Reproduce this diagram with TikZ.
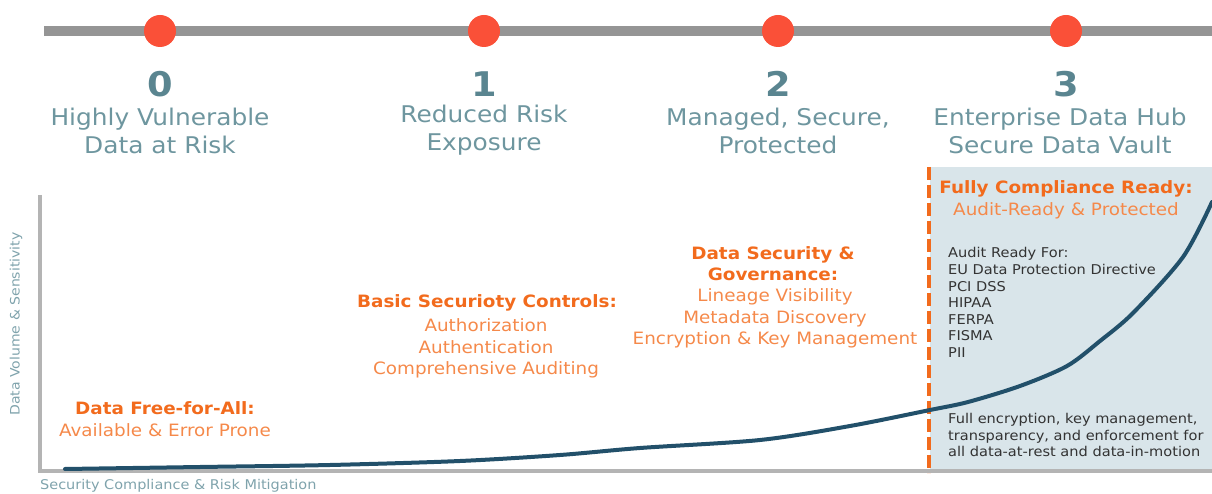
\documentclass[tikz,border=0pt]{standalone}
\usepackage{fontspec}
\setmainfont{DejaVu Sans}[FakeStretch=1.08]
\definecolor{bar}{HTML}{959595}
\definecolor{dot}{HTML}{FA5038}
\definecolor{teal}{HTML}{5A8590}
\definecolor{teallt}{HTML}{6E969F}
\definecolor{orgB}{HTML}{F26B1D}
\definecolor{orgR}{HTML}{F5894A}
\definecolor{zone}{HTML}{D9E5EA}
\definecolor{axis}{HTML}{B4B4B4}
\definecolor{curve}{HTML}{22506A}
\definecolor{txt}{HTML}{333333}
\definecolor{axlab}{HTML}{7FA3AC}
\tikzset{
  num/.style={font=\fontsize{34}{34}\selectfont\bfseries, text=teal, inner sep=0},
  lvl/.style={font=\fontsize{23}{28}\selectfont, text=teallt, align=center, inner sep=0},
  hd/.style={font=\fontsize{17}{21}\selectfont\bfseries, text=orgB, inner sep=0, align=center},
  bd/.style={font=\fontsize{17}{21.5}\selectfont, text=orgR, inner sep=0, align=center},
  sm/.style={font=\fontsize{13.5}{16.6}\selectfont, text=txt, inner sep=0, align=left, anchor=north west},
  stage/.style={circle, fill=dot, minimum size=32, inner sep=0},
}
\begin{document}
\begin{tikzpicture}[x=1pt,y=-1pt]
\useasboundingbox (0,0) rectangle (1212,494);
% zone
\fill[zone] (930,167) rectangle (1212,471);
% timeline
\coordinate (tl) at (44,31);
\coordinate (tr) at (1212,31);
\draw[bar, line width=10] (tl) -- (tr);
\node[stage] (d0) at (160,31) {};
\node[stage] (d1) at (484,31) {};
\node[stage] (d2) at (778,31) {};
\node[stage] (d3) at (1066,31) {};
% numbers and labels
\node[num] (n0) at (160,84) {0};
\node[num] (n1) at (484,84) {1};
\node[num] (n2) at (778,84) {2};
\node[num] (n3) at (1066,84) {3};
\node[lvl, anchor=north] (l0) at (160,108) {Highly Vulnerable\\Data at Risk};
\node[lvl, anchor=north] (l1) at (484,105) {Reduced Risk\\Exposure};
\node[lvl, anchor=north] (l2) at (778,108) {Managed, Secure,\\Protected};
\node[lvl, anchor=north] (l3) at (1060,108) {Enterprise Data Hub\\Secure Data Vault};
% axes
\coordinate (ytop) at (40,195);
\coordinate (orig) at (40,471);
\coordinate (xend) at (1212,471);
\draw[axis, line width=4] (ytop) -- (orig) -- (xend);
\node[rotate=90, font=\fontsize{13}{13}\selectfont, text=axlab, inner sep=0] (ylab) at (16,324) {Data Volume \& Sensitivity};
\node[anchor=west, font=\fontsize{13.4}{13.4}\selectfont, text=axlab, inner sep=0] (xlab) at (40,486) {Security Compliance \& Risk Mitigation};
% dashed separator
\coordinate (dtop) at (929,167);
\coordinate (dbot) at (929,473);
\draw[orgB, line width=4, dash pattern=on 13pt off 5pt] (dtop) -- (dbot);
% curve
\draw[curve, line width=4, line cap=round] plot[smooth, tension=0.5] coordinates {
 (65,469) (200,467) (330,465) (460,461) (560,455) (640,448) (760,440) (850,426) (930,410) (968,402) (1020,386) (1067,366) (1100,341) (1133,313) (1183,257) (1212,202)};
% texts
\node[hd] (a1) at (165,408) {Data Free-for-All:};
\node[bd] (a2) at (165,430) {Available \& Error Prone};
\node[hd] (b1) at (487,303) {Basic Securioty Controls:};
\node[bd, anchor=north] (b2) at (486,318.5) {Authorization\\Authentication\\Comprehensive Auditing};
\node[hd] (c1) at (773,263.5) {Data Security \&\\Governance:};
\node[bd, anchor=north] (c2) at (775,288.5) {Lineage Visibility\\Metadata Discovery\\Encryption \& Key Management};
\node[hd] (e1) at (1066,189) {Fully Compliance Ready:};
\node[bd] (e2) at (1066,211) {Audit-Ready \& Protected};
\node[sm] (f1) at (948,247.5) {Audit Ready For:\\EU Data Protection Directive\\PCI DSS\\HIPAA\\FERPA\\FISMA\\PII};
\node[sm] (g1) at (948,413) {Full encryption, key management,\\transparency, and enforcement for\\all data-at-rest and data-in-motion};
\end{tikzpicture}
\end{document}
